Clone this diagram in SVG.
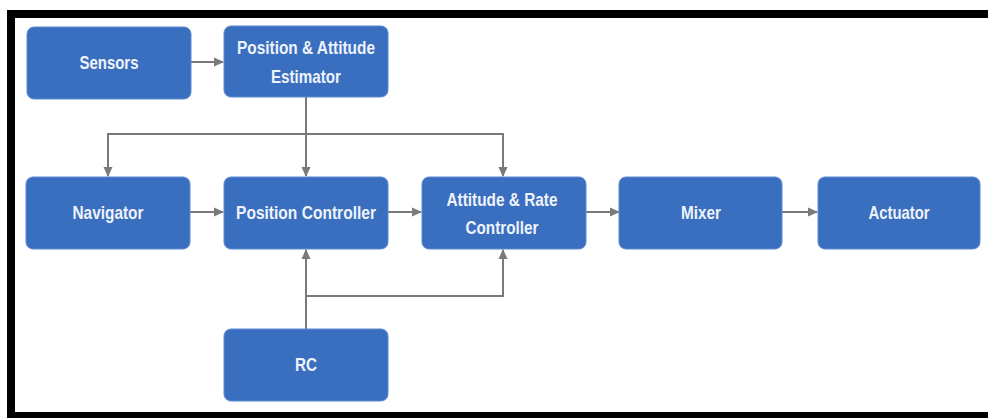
<svg xmlns="http://www.w3.org/2000/svg" width="988" height="418" viewBox="0 0 988 418">
<defs>
<marker id="arr" markerWidth="10" markerHeight="10" refX="9" refY="5" orient="auto" markerUnits="userSpaceOnUse">
<path d="M0,0.5 L10,5 L0,9.5 Z" fill="#7a7a7a"/>
</marker>
<style>
.box{fill:#3a6ebf;stroke:#5a8ad0;stroke-width:1}
.lbl{font-family:"Liberation Sans Narrow","Liberation Sans",Arial,sans-serif;font-weight:bold;font-size:19px;fill:#eef3fb;text-anchor:middle}
.ln{fill:none;stroke:#7a7a7a;stroke-width:2}
</style>
</defs>
<rect x="0" y="0" width="988" height="418" fill="#ffffff"/>
<rect x="11" y="14" width="1000" height="402" fill="none" stroke="#000000" stroke-width="8"/>
<g id="connectors">
<line class="ln" x1="191" y1="62" x2="223" y2="62" marker-end="url(#arr)"/>
<line class="ln" x1="306" y1="97" x2="306" y2="176" marker-end="url(#arr)"/>
<line class="ln" x1="107" y1="134" x2="504" y2="134"/>
<line class="ln" x1="108" y1="134" x2="108" y2="176" marker-end="url(#arr)"/>
<line class="ln" x1="503" y1="134" x2="503" y2="176" marker-end="url(#arr)"/>
<line class="ln" x1="190" y1="212" x2="223" y2="212" marker-end="url(#arr)"/>
<line class="ln" x1="388" y1="212" x2="421" y2="212" marker-end="url(#arr)"/>
<line class="ln" x1="586" y1="212" x2="619" y2="212" marker-end="url(#arr)"/>
<line class="ln" x1="782" y1="212" x2="817" y2="212" marker-end="url(#arr)"/>
<line class="ln" x1="306" y1="329" x2="306" y2="250" marker-end="url(#arr)"/>
<polyline class="ln" points="306,296 503,296 503,250" marker-end="url(#arr)"/>
</g>
<g id="sensors"><rect class="box" x="27" y="27" width="164" height="72" rx="7"/><text class="lbl" x="109" y="69" textLength="59" lengthAdjust="spacingAndGlyphs">Sensors</text></g>
<g id="estimator"><rect class="box" x="224" y="26" width="164" height="71" rx="7"/><text class="lbl" x="306" y="54" textLength="138" lengthAdjust="spacingAndGlyphs">Position &amp; Attitude</text><text class="lbl" x="306" y="83" textLength="70" lengthAdjust="spacingAndGlyphs">Estimator</text></g>
<g id="navigator"><rect class="box" x="26" y="177" width="164" height="72" rx="7"/><text class="lbl" x="108" y="219" textLength="71" lengthAdjust="spacingAndGlyphs">Navigator</text></g>
<g id="position-controller"><rect class="box" x="224" y="177" width="164" height="72" rx="7"/><text class="lbl" x="306" y="219" textLength="140" lengthAdjust="spacingAndGlyphs">Position Controller</text></g>
<g id="attitude-controller"><rect class="box" x="422" y="177" width="164" height="72" rx="7"/><text class="lbl" x="502" y="206" textLength="111" lengthAdjust="spacingAndGlyphs">Attitude &amp; Rate</text><text class="lbl" x="502" y="234" textLength="73" lengthAdjust="spacingAndGlyphs">Controller</text></g>
<g id="mixer"><rect class="box" x="619" y="177" width="163" height="72" rx="7"/><text class="lbl" x="701" y="219" textLength="40" lengthAdjust="spacingAndGlyphs">Mixer</text></g>
<g id="actuator"><rect class="box" x="818" y="177" width="162" height="72" rx="7"/><text class="lbl" x="899" y="219" textLength="61" lengthAdjust="spacingAndGlyphs">Actuator</text></g>
<g id="rc"><rect class="box" x="224" y="329" width="164" height="72" rx="7"/><text class="lbl" x="306" y="371" textLength="22" lengthAdjust="spacingAndGlyphs">RC</text></g>
</svg>
